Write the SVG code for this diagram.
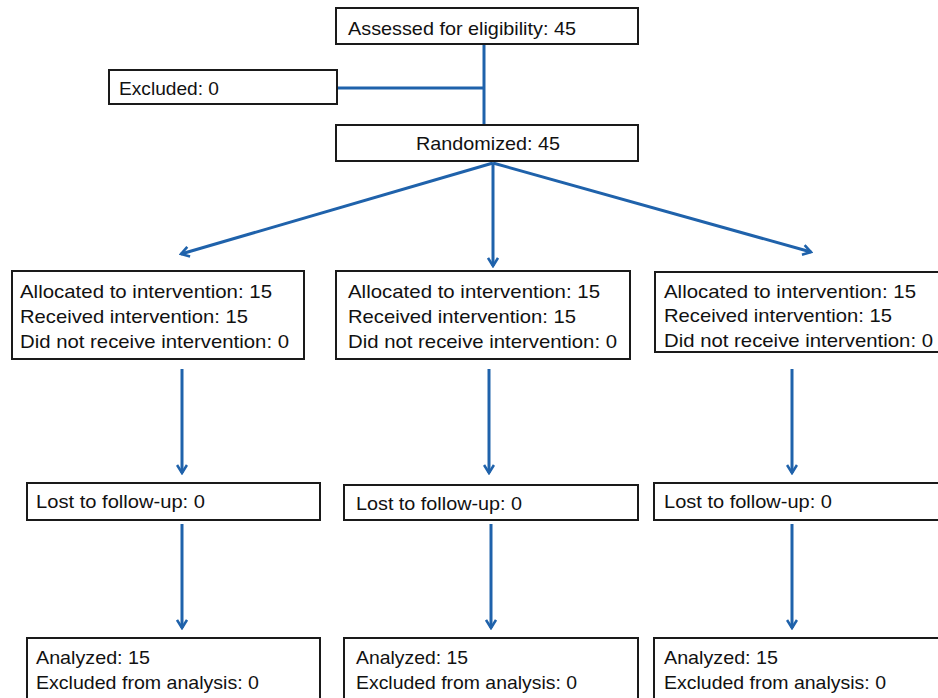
<svg xmlns="http://www.w3.org/2000/svg" width="938" height="698" viewBox="0 0 938 698">
<style>
.box{fill:#fff;stroke:#1a1a1a;stroke-width:2}
.t{font-family:"Liberation Sans",Arial,sans-serif;font-size:19px;fill:#111}
.c{fill:none;stroke:#1f62ab;stroke-width:3}
</style>
<defs>
<marker id="ah" viewBox="0 0 12 12" refX="10" refY="6" markerWidth="12" markerHeight="12" markerUnits="userSpaceOnUse" orient="auto">
<path d="M2,1 L10,6 L2,11" fill="none" stroke="#1f62ab" stroke-width="2.6"/>
</marker>
</defs>
<rect width="938" height="698" fill="#fff"/>
<g id="connectors">
<line class="c" x1="484" y1="44" x2="484" y2="125"/>
<line class="c" x1="337" y1="88" x2="484" y2="88"/>
<line class="c" x1="493" y1="163" x2="181" y2="254" marker-end="url(#ah)"/>
<line class="c" x1="493" y1="163" x2="493" y2="266" marker-end="url(#ah)"/>
<line class="c" x1="493" y1="163" x2="811" y2="252" marker-end="url(#ah)"/>
<line class="c" x1="182" y1="369" x2="182" y2="473" marker-end="url(#ah)"/>
<line class="c" x1="489" y1="369" x2="489" y2="473" marker-end="url(#ah)"/>
<line class="c" x1="792" y1="369" x2="792" y2="473" marker-end="url(#ah)"/>
<line class="c" x1="182" y1="524" x2="182" y2="628" marker-end="url(#ah)"/>
<line class="c" x1="491" y1="524" x2="491" y2="628" marker-end="url(#ah)"/>
<line class="c" x1="792" y1="524" x2="792" y2="628" marker-end="url(#ah)"/>
</g>
<g id="assessed"><rect class="box" x="336" y="8" width="302" height="36"/><text class="t" x="348" y="35" textLength="228" lengthAdjust="spacingAndGlyphs">Assessed for eligibility: 45</text></g>
<g id="excluded"><rect class="box" x="109" y="70" width="228" height="34"/><text class="t" x="119" y="95" textLength="100" lengthAdjust="spacingAndGlyphs">Excluded: 0</text></g>
<g id="randomized"><rect class="box" x="336" y="125" width="302" height="36"/><text class="t" x="416" y="150" textLength="144" lengthAdjust="spacingAndGlyphs">Randomized: 45</text></g>
<g id="alloc1"><rect class="box" x="12" y="271" width="292" height="88"/>
<text class="t" x="20" y="298" textLength="252" lengthAdjust="spacingAndGlyphs">Allocated to intervention: 15</text>
<text class="t" x="20" y="323" textLength="228" lengthAdjust="spacingAndGlyphs">Received intervention: 15</text>
<text class="t" x="20" y="348" textLength="269" lengthAdjust="spacingAndGlyphs">Did not receive intervention: 0</text></g>
<g id="alloc2"><rect class="box" x="336" y="271" width="294" height="88"/>
<text class="t" x="348" y="298" textLength="252" lengthAdjust="spacingAndGlyphs">Allocated to intervention: 15</text>
<text class="t" x="348" y="323" textLength="228" lengthAdjust="spacingAndGlyphs">Received intervention: 15</text>
<text class="t" x="348" y="348" textLength="269" lengthAdjust="spacingAndGlyphs">Did not receive intervention: 0</text></g>
<g id="alloc3"><rect class="box" x="655" y="272" width="290" height="80"/>
<text class="t" x="664" y="298" textLength="252" lengthAdjust="spacingAndGlyphs">Allocated to intervention: 15</text>
<text class="t" x="664" y="322" textLength="228" lengthAdjust="spacingAndGlyphs">Received intervention: 15</text>
<text class="t" x="664" y="347" textLength="269" lengthAdjust="spacingAndGlyphs">Did not receive intervention: 0</text></g>
<g id="lost1"><rect class="box" x="27" y="483" width="293" height="37"/><text class="t" x="36" y="508" textLength="169" lengthAdjust="spacingAndGlyphs">Lost to follow-up: 0</text></g>
<g id="lost2"><rect class="box" x="344" y="485" width="294" height="35"/><text class="t" x="356" y="510" textLength="166" lengthAdjust="spacingAndGlyphs">Lost to follow-up: 0</text></g>
<g id="lost3"><rect class="box" x="654" y="483" width="290" height="37"/><text class="t" x="664" y="508" textLength="168" lengthAdjust="spacingAndGlyphs">Lost to follow-up: 0</text></g>
<g id="anal1"><rect class="box" x="27" y="638" width="293" height="70"/>
<text class="t" x="36" y="664" textLength="114" lengthAdjust="spacingAndGlyphs">Analyzed: 15</text>
<text class="t" x="36" y="689" textLength="223" lengthAdjust="spacingAndGlyphs">Excluded from analysis: 0</text></g>
<g id="anal2"><rect class="box" x="344" y="638" width="294" height="70"/>
<text class="t" x="356" y="664" textLength="112" lengthAdjust="spacingAndGlyphs">Analyzed: 15</text>
<text class="t" x="356" y="689" textLength="221" lengthAdjust="spacingAndGlyphs">Excluded from analysis: 0</text></g>
<g id="anal3"><rect class="box" x="654" y="638" width="290" height="70"/>
<text class="t" x="664" y="664" textLength="114" lengthAdjust="spacingAndGlyphs">Analyzed: 15</text>
<text class="t" x="664" y="689" textLength="222" lengthAdjust="spacingAndGlyphs">Excluded from analysis: 0</text></g>
</svg>
